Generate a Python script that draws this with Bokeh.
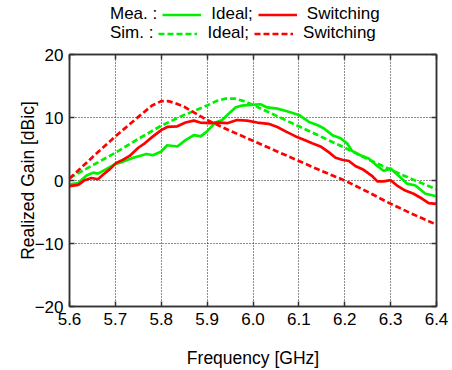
from bokeh.plotting import figure
from bokeh.layouts import column
from bokeh.models import (Range1d, LinearAxis, Legend, LegendItem, FixedTicker,
                          PrintfTickFormatter)
from bokeh.embed import file_html
from bokeh.resources import INLINE

# ---- data ----
x_ticks = [5.6, 5.7, 5.8, 5.9, 6.0, 6.1, 6.2, 6.3, 6.4]
y_ticks = [-20, -10, 0, 10, 20]

f_mea_ideal = [5.600, 5.619, 5.637, 5.652, 5.662, 5.680, 5.699, 5.717, 5.739, 5.768,
               5.782, 5.800, 5.813, 5.835, 5.853, 5.871, 5.886, 5.900, 5.918, 5.933,
               5.944, 5.962, 5.976, 5.995, 6.016, 6.031, 6.053, 6.074, 6.100, 6.122,
               6.140, 6.154, 6.173, 6.191, 6.205, 6.216, 6.234, 6.252, 6.271, 6.285,
               6.300, 6.318, 6.336, 6.354, 6.376, 6.400]
g_mea_ideal = [-0.6, -0.4, 0.8, 1.25, 1.1, 1.8, 2.6, 3.0, 3.6, 4.2,
               4.0, 4.6, 5.6, 5.4, 6.4, 7.2, 7.0, 7.8, 9.2, 9.6,
               10.4, 11.6, 11.9, 12.0, 12.1, 11.6, 11.4, 11.0, 10.4, 9.3,
               8.8, 8.3, 7.2, 6.7, 5.9, 4.7, 4.0, 3.5, 2.3, 1.5,
               1.9, 0.7, -0.5, -0.8, -2.1, -2.5]

f_mea_sw = [5.600, 5.619, 5.633, 5.648, 5.662, 5.673, 5.688, 5.702, 5.717, 5.731,
            5.750, 5.764, 5.782, 5.800, 5.813, 5.835, 5.853, 5.871, 5.885, 5.907,
            5.925, 5.944, 5.965, 5.987, 6.009, 6.034, 6.053, 6.071, 6.093, 6.111,
            6.129, 6.147, 6.165, 6.180, 6.194, 6.209, 6.223, 6.241, 6.260, 6.271,
            6.285, 6.300, 6.314, 6.332, 6.350, 6.369, 6.383, 6.400]
g_mea_sw = [-0.9, -0.7, 0.05, 0.4, 0.2, 0.9, 1.8, 2.8, 3.3, 3.9,
            5.2, 5.9, 7.0, 8.0, 8.5, 8.6, 9.2, 9.5, 9.2, 9.1,
            9.2, 9.1, 9.6, 9.5, 9.2, 9.0, 8.5, 7.8, 7.0, 6.45,
            5.9, 5.4, 4.5, 3.6, 3.3, 3.1, 2.3, 1.7, 0.7, -0.15,
            -0.15, 0.05, -0.8, -1.6, -2.1, -2.9, -3.6, -3.7]

f_sim_ideal = [5.6, 5.65, 5.7, 5.75, 5.8, 5.85, 5.9, 5.92, 5.94, 5.96,
               5.98, 6.0, 6.05, 6.1, 6.15, 6.2, 6.25, 6.3, 6.35, 6.4]
g_sim_ideal = [0.4, 2.4, 4.4, 6.6, 8.7, 10.4, 11.9, 12.6, 13.0, 13.0,
               12.6, 12.0, 10.3, 8.6, 6.9, 5.2, 3.4, 1.7, 0.1, -1.4]

f_sim_sw = [5.6, 5.65, 5.7, 5.75, 5.78, 5.8, 5.815, 5.83, 5.85, 5.9,
            5.95, 6.0, 6.05, 6.1, 6.15, 6.2, 6.25, 6.3, 6.35, 6.4]
g_sim_sw = [0.3, 3.7, 7.0, 10.1, 11.9, 12.6, 12.6, 12.3, 11.7, 9.6,
            7.9, 6.3, 4.7, 3.1, 1.5, 0.0, -1.8, -3.7, -5.4, -7.0]

FONT = "Liberation Sans"
GREEN = "#00f000"
RED = "#ff0000"
FRAME = "#333333"
LW = 2.7
DASH = "6 3"

# ---------------- main plot ----------------
p = figure(width=452, height=326, output_backend="svg", toolbar_location=None,
           x_range=Range1d(5.6, 6.4), y_range=Range1d(-20, 20),
           min_border_left=69, min_border_right=16, min_border_top=10,
           min_border_bottom=59, background_fill_color="white",
           border_fill_color="white")

p.outline_line_color = FRAME
p.outline_line_width = 1.5

for ax in (p.xaxis[0], p.yaxis[0]):
    ax.major_tick_in = 5
    ax.major_tick_out = 0
    ax.minor_tick_line_color = None
    ax.axis_line_color = FRAME
    ax.axis_line_width = 1.5
    ax.major_tick_line_color = FRAME
    ax.major_tick_line_width = 1.5
    ax.major_label_text_font = FONT
    ax.major_label_text_font_size = "17px"
    ax.major_label_text_color = "black"
    ax.axis_label_text_font = FONT
    ax.axis_label_text_font_size = "17.5px"
    ax.axis_label_text_font_style = "normal"
    ax.axis_label_text_color = "black"

p.xaxis[0].ticker = FixedTicker(ticks=x_ticks)
p.xaxis[0].formatter = PrintfTickFormatter(format="%.1f")
p.yaxis[0].ticker = FixedTicker(ticks=y_ticks)
p.xaxis[0].axis_label = "Frequency [GHz]"
p.yaxis[0].axis_label = "Realized Gain [dBic]"
p.xaxis[0].major_label_standoff = 6
p.yaxis[0].major_label_standoff = 6
p.xaxis[0].axis_label_standoff = 20
p.yaxis[0].axis_label_standoff = -6

# mirrored tick marks on right / top edges (no labels drawn)
for loc, tk in (("right", y_ticks), ("above", x_ticks)):
    p.add_layout(LinearAxis(ticker=FixedTicker(ticks=tk), major_tick_in=5,
                            major_tick_out=0, minor_tick_line_color=None,
                            axis_line_color=FRAME, axis_line_width=1.5,
                            major_tick_line_color=FRAME, major_tick_line_width=1.5,
                            major_label_text_font_size="1px",
                            major_label_text_alpha=0, major_label_standoff=0),
                 loc)

p.xgrid[0].ticker = FixedTicker(ticks=x_ticks)
p.ygrid[0].ticker = FixedTicker(ticks=y_ticks)
p.grid.grid_line_color = "#1a1a1a"
p.grid.grid_line_dash = "1 2"
p.grid.grid_line_width = 1

p.line(f_sim_ideal, g_sim_ideal, line_color=GREEN, line_width=LW, line_dash=DASH)
p.line(f_sim_sw, g_sim_sw, line_color=RED, line_width=LW, line_dash=DASH)
p.line(f_mea_ideal, g_mea_ideal, line_color=GREEN, line_width=LW)
p.line(f_mea_sw, g_mea_sw, line_color=RED, line_width=LW)

# ---------------- legend strip (frame aligned with the main plot) ----------------
lg = figure(width=452, height=44, output_backend="svg", toolbar_location=None,
            x_range=Range1d(0, 1), y_range=Range1d(0, 1),
            x_axis_location=None, y_axis_location=None,
            min_border_left=69, min_border_right=16, min_border_top=0,
            min_border_bottom=0,
            outline_line_color=None, background_fill_color="white",
            border_fill_color="white")
lg.grid.visible = False

# key renderers carry the series data but lie outside this strip's ranges
blank = lg.line(f_mea_ideal, g_mea_ideal, line_alpha=0)
k_mi = lg.line(f_mea_ideal, g_mea_ideal, line_color=GREEN, line_width=LW)
k_ms = lg.line(f_mea_sw, g_mea_sw, line_color=RED, line_width=LW)
k_si = lg.line(f_sim_ideal, g_sim_ideal, line_color=GREEN, line_width=LW, line_dash=DASH)
k_ss = lg.line(f_sim_sw, g_sim_sw, line_color=RED, line_width=LW, line_dash=DASH)


def make_legend(title, r1, r2, y):
    return Legend(items=[LegendItem(label=title, renderers=[blank]),
                         LegendItem(label="Ideal;", renderers=[r1]),
                         LegendItem(label="Switching", renderers=[r2])],
                  orientation="horizontal", location=(-8, y),
                  padding=0, margin=0, spacing=5, label_standoff=10,
                  glyph_width=39, glyph_height=19,
                  label_text_font=FONT, label_text_font_size="17px",
                  label_text_color="black",
                  border_line_color=None, background_fill_alpha=0)


lg.add_layout(make_legend("Mea. :", k_mi, k_ms, 20), "center")
lg.add_layout(make_legend("Sim. :", k_si, k_ss, 1), "center")

layout = column(lg, p, spacing=0)
open("out.html", "w").write(file_html(layout, INLINE))
